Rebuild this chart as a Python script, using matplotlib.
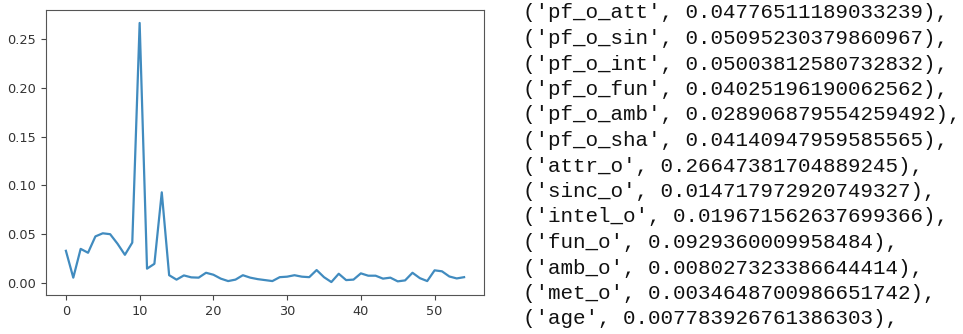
import matplotlib
matplotlib.use("Agg")
import matplotlib.pyplot as plt

# feature importances printed next to the plot (indices 4..16)
feat_names = ["pf_o_att", "pf_o_sin", "pf_o_int", "pf_o_fun", "pf_o_amb", "pf_o_sha",
              "attr_o", "sinc_o", "intel_o", "fun_o", "amb_o", "met_o", "age"]
feat_vals = ["0.04776511189033239", "0.05095230379860967", "0.05003812580732832",
             "0.04025196190062562", "0.028906879554259492", "0.04140947959585565",
             "0.26647381704889245", "0.014717972920749327", "0.019671562637699366",
             "0.0929360009958484", "0.008027323386644414", "0.0034648700986651742",
             "0.007783926761386303"]

# all importances (0..3 and 17..54 estimated)
head = [0.033, 0.0055, 0.035, 0.031]
tail = [0.0058, 0.0055, 0.0105, 0.0085, 0.0045, 0.002, 0.0035, 0.008, 0.0055, 0.004,
        0.003, 0.002, 0.006, 0.0065, 0.008, 0.0065, 0.006, 0.0133, 0.006, 0.001,
        0.0095, 0.003, 0.0035, 0.0099, 0.0075, 0.0075, 0.0045, 0.0055, 0.0017, 0.0027,
        0.0105, 0.005, 0.002, 0.013, 0.012, 0.0067, 0.0047, 0.006]
importances = head + [float(v) for v in feat_vals] + tail

W, H = 963, 334
fig = plt.figure(figsize=(W / 100, H / 100), dpi=100)
ax = fig.add_axes([46 / W, 1 - 295 / H, (484 - 46) / W, (295 - 10) / H])
ax.plot(range(len(importances)), importances, color="#1f77b4", lw=1.6, alpha=0.85)
ax.set_xticks(range(0, 51, 10))
ax.set_yticks([0.0, 0.05, 0.10, 0.15, 0.20, 0.25])
ax.set_yticklabels(["0.00", "0.05", "0.10", "0.15", "0.20", "0.25"])
ax.tick_params(labelsize=9.3, colors="#444444", labelcolor="#333333")
for s in ax.spines.values():
    s.set_color("#555555")

for i, (n, v) in enumerate(zip(feat_names, feat_vals)):
    fig.text(523 / W, 1 - (18.5 + i * 25.5) / H, f"('{n}', {v}),",
             family=["Liberation Mono", "DejaVu Sans Mono"], fontsize=15,
             color="#111111", va="baseline")

fig.savefig("out.png", dpi=100)
